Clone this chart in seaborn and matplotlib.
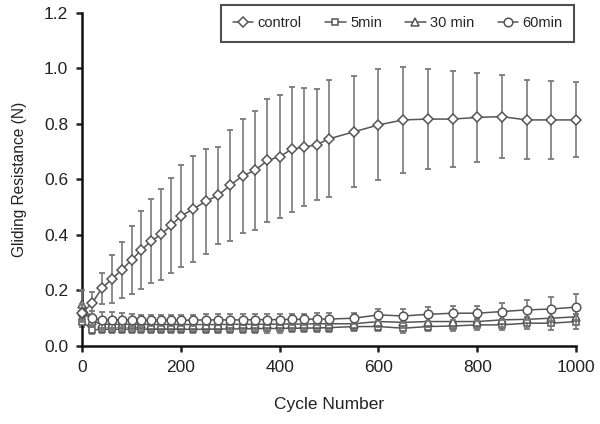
import numpy as np
import pandas as pd
import matplotlib
matplotlib.use("Agg")
import matplotlib.pyplot as plt
import seaborn as sns

cycles = [0, 20, 40, 60, 80, 100, 120, 140, 160, 180, 200, 225, 250, 275, 300, 325,
          350, 375, 400, 425, 450, 475, 500, 550, 600, 650, 700, 750, 800, 850, 900, 950, 1000]

control_mean = [0.12, 0.154, 0.208, 0.241, 0.274, 0.31, 0.346, 0.378, 0.402, 0.434, 0.468,
                0.493, 0.521, 0.542, 0.579, 0.613, 0.632, 0.668, 0.682, 0.709, 0.716, 0.725,
                0.746, 0.771, 0.796, 0.814, 0.817, 0.817, 0.823, 0.826, 0.814, 0.814, 0.814]
control_sd = [0.03, 0.04, 0.056, 0.088, 0.10, 0.122, 0.14, 0.15, 0.165, 0.17, 0.183,
              0.19, 0.19, 0.176, 0.20, 0.205, 0.215, 0.22, 0.22, 0.225, 0.212, 0.20,
              0.21, 0.20, 0.20, 0.19, 0.18, 0.172, 0.16, 0.15, 0.142, 0.14, 0.135]

min5_mean = [0.088, 0.058, 0.06, 0.06, 0.06, 0.06, 0.06, 0.06, 0.06, 0.06, 0.06,
             0.06, 0.06, 0.061, 0.061, 0.062, 0.062, 0.063, 0.063, 0.064, 0.064, 0.065,
             0.066, 0.07, 0.07, 0.064, 0.07, 0.072, 0.076, 0.076, 0.082, 0.082, 0.088]
min5_sd = [0.02, 0.015, 0.015, 0.015, 0.015, 0.015, 0.015, 0.015, 0.015, 0.015, 0.015,
           0.015, 0.015, 0.015, 0.015, 0.015, 0.015, 0.015, 0.015, 0.015, 0.015, 0.015,
           0.015, 0.016, 0.016, 0.016, 0.017, 0.018, 0.02, 0.02, 0.022, 0.024, 0.028]

min30_mean = [0.152, 0.09, 0.078, 0.078, 0.078, 0.078, 0.078, 0.077, 0.077, 0.077, 0.077,
              0.077, 0.077, 0.077, 0.078, 0.078, 0.078, 0.078, 0.079, 0.079, 0.079, 0.08,
              0.08, 0.08, 0.088, 0.085, 0.088, 0.088, 0.088, 0.094, 0.096, 0.10, 0.105]
min30_sd = [0.05, 0.02, 0.02, 0.02, 0.02, 0.02, 0.02, 0.02, 0.02, 0.02, 0.02,
            0.02, 0.02, 0.02, 0.02, 0.02, 0.02, 0.02, 0.02, 0.02, 0.02, 0.02,
            0.02, 0.02, 0.02, 0.02, 0.02, 0.02, 0.022, 0.024, 0.026, 0.028, 0.03]

min60_mean = [0.118, 0.10, 0.094, 0.094, 0.094, 0.093, 0.093, 0.093, 0.093, 0.093, 0.093,
              0.093, 0.094, 0.094, 0.094, 0.094, 0.095, 0.095, 0.095, 0.096, 0.096, 0.097,
              0.097, 0.10, 0.112, 0.108, 0.114, 0.118, 0.118, 0.124, 0.13, 0.133, 0.14]
min60_sd = [0.03, 0.025, 0.028, 0.028, 0.025, 0.022, 0.02, 0.02, 0.02, 0.02, 0.02,
            0.02, 0.02, 0.02, 0.02, 0.02, 0.02, 0.02, 0.02, 0.02, 0.02, 0.02,
            0.02, 0.02, 0.022, 0.024, 0.025, 0.026, 0.027, 0.03, 0.036, 0.042, 0.047]

labels = ["control", "5min", "30 min", "60min"]
markers = ["D", "s", "^", "o"]
msizes = [4.6, 5.0, 5.6, 6.2]

means = [control_mean, min5_mean, min30_mean, min60_mean]
sds = [control_sd, min5_sd, min30_sd, min60_sd]

sns.set_theme(style="ticks")
plt.rcParams['font.family'] = ['Liberation Sans', 'DejaVu Sans']

fig = plt.figure(figsize=(6.0, 4.24), dpi=100)
ax = fig.add_axes([0.137, 0.184, 0.823, 0.786])

line_col = "#555555"
err_col = "#7a7a7a"

order = [1, 2, 3, 0]
z = {0: 6, 1: 3, 2: 4, 3: 5}
for i in order:
    df = pd.DataFrame({"Cycle": cycles, "Value": means[i]})
    ax.errorbar(cycles, means[i], yerr=sds[i], fmt="none", ecolor=err_col,
                elinewidth=1.2, capsize=2.5, capthick=1.3, zorder=z[i] - 0.5, clip_on=False)
    sns.lineplot(data=df, x="Cycle", y="Value", ax=ax, color=line_col, lw=1.1,
                 marker=markers[i], markersize=msizes[i], markerfacecolor="white",
                 markeredgecolor=line_col, markeredgewidth=1.1, label=labels[i],
                 zorder=z[i], clip_on=False)

handles, labs = ax.get_legend_handles_labels()
hmap = dict(zip(labs, handles))
if ax.get_legend() is not None:
    ax.get_legend().remove()

ax.set_xlim(0, 1000)
ax.set_ylim(0, 1.2)
ax.set_xticks([0, 200, 400, 600, 800, 1000])
ax.set_yticks([0.0, 0.2, 0.4, 0.6, 0.8, 1.0, 1.2])
ax.set_yticklabels(["0.0", "0.2", "0.4", "0.6", "0.8", "1.0", "1.2"])
ax.set_xlabel("Cycle Number", fontsize=12.5, color="#222222", labelpad=16)
ax.set_ylabel("Gliding Resistance (N)", fontsize=11.2, color="#222222", labelpad=12)
ax.tick_params(axis="both", labelsize=12.5, colors="#222222", width=1.8, length=4,
               direction="out", pad=6)
for side in ["left", "bottom"]:
    ax.spines[side].set_linewidth(1.8)
    ax.spines[side].set_color("#111111")
sns.despine(ax=ax)

leg = fig.legend([hmap[l] for l in labels], labels, loc="center",
                 bbox_to_anchor=(0.663, 0.945), ncol=4, frameon=True, fancybox=False,
                 edgecolor="#222222", fontsize=10.5, handlelength=1.4, handletextpad=0.3,
                 columnspacing=1.6, borderpad=0.8)
leg.get_frame().set_linewidth(1.5)

fig.savefig("out.png", dpi=100)
